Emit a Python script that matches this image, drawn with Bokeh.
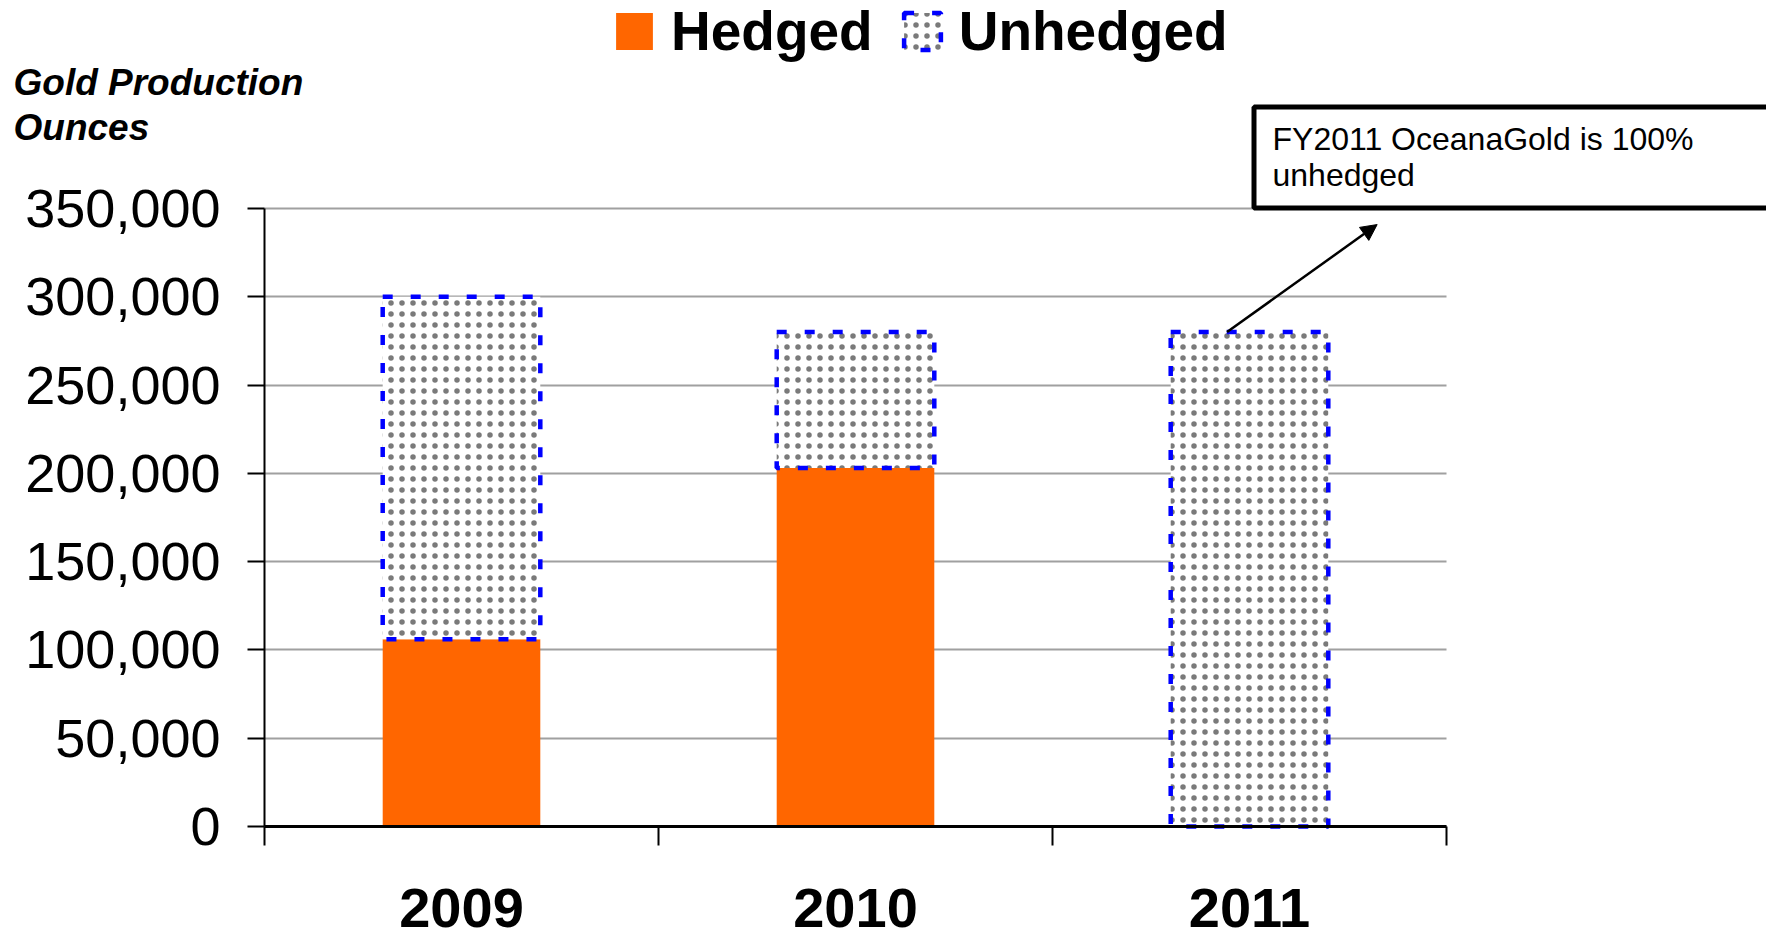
from bokeh.plotting import figure
from bokeh.models import (ColumnDataSource, Legend, LegendItem, FixedTicker, NumeralTickFormatter,
                          Label, LabelSet, BoxAnnotation, Arrow, NormalHead, Range1d)
from bokeh.core.properties import value
from bokeh.embed import file_html
from bokeh.resources import INLINE

# ---- data ----
years = ["2009", "2010", "2011"]
hedged = [106000, 203000, 0]
unhedged = [194000, 77000, 280000]
y_ticks = [0, 50000, 100000, 150000, 200000, 250000, 300000, 350000]
series_names = ["Hedged", "Unhedged"]
y_title_lines = ["Gold Production", "Ounces"]
note_lines = ["FY2011 OceanaGold is 100%", "unhedged"]

idx = [i + 0.5 for i in range(len(years))]
totals = [h + u for h, u in zip(hedged, unhedged)]
src = ColumnDataSource(dict(x=idx, year=years, hedged=hedged, total=totals))

FONT = "Liberation Sans"

# ---- layout (pixels) ----
W, H = 1766, 939
AX_L, AX_R = 264, 1446      # x pixel of category 0 and category end
AX_B, AX_T = 826, 208       # y pixel of 0 and 350,000
Y_MAX = 350000
ncat = len(years)
xpp = (AX_R - AX_L) / ncat
ypp = (AX_B - AX_T) / Y_MAX
x_range = Range1d(-AX_L / xpp, ncat + (W - AX_R) / xpp)
y_range = Range1d(-(H - AX_B) / ypp, Y_MAX + AX_T / ypp)

p = figure(width=W, height=H, output_backend="svg", toolbar_location=None,
           x_range=x_range, y_range=y_range, title=None,
           min_border=0, min_border_left=0, min_border_right=0,
           min_border_top=0, min_border_bottom=0)
p.outline_line_color = None
p.background_fill_color = "white"
p.xgrid.visible = False
p.ygrid.ticker = FixedTicker(ticks=y_ticks)
p.ygrid.grid_line_color = "#A0A0A0"
p.ygrid.grid_line_width = 2
p.ygrid.bounds = (0, Y_MAX)
p.ygrid.cross_bounds = (0, ncat)

# y axis
yax = p.yaxis[0]
yax.fixed_location = 0
yax.bounds = (0, Y_MAX)
yax.ticker = FixedTicker(ticks=y_ticks)
yax.formatter = NumeralTickFormatter(format="0,0")
yax.axis_line_color = "black"
yax.axis_line_width = 2
yax.major_tick_line_color = "black"
yax.major_tick_line_width = 2
yax.major_tick_out = 17
yax.major_tick_in = 0
yax.minor_tick_line_color = None
yax.major_label_standoff = 27
yax.major_label_text_font = FONT
yax.major_label_text_font_size = "54px"
yax.major_label_text_color = "black"

# x axis (ticks at category boundaries)
xax = p.xaxis[0]
xax.fixed_location = 0
xax.bounds = (0, ncat)
xax.ticker = FixedTicker(ticks=list(range(ncat + 1)))
xax.major_label_overrides = {i: "" for i in range(ncat + 1)}
xax.major_label_text_font_size = "1px"
xax.axis_line_color = "black"
xax.axis_line_width = 3
xax.major_tick_line_color = "black"
xax.major_tick_line_width = 2
xax.major_tick_out = 19
xax.major_tick_in = 0
xax.minor_tick_line_color = None

# bars
r_h = p.vbar(x="x", width=0.4, bottom=0, top="hedged", source=src,
             fill_color="#FF6600", line_color=None)
r_u = p.vbar(x="x", width=0.4, bottom="hedged", top="total", source=src,
             fill_color="white", line_color="#0000FF", line_width=4.5,
             line_dash="10 18", hatch_pattern="dot", hatch_scale=11,
             hatch_color="#7a7a7a", hatch_weight=0.3)

# year labels
years_lbl = LabelSet(x="x", y=13, y_units="screen", text="year", source=src,
                     text_align="center", text_baseline="alphabetic",
                     text_font=value(FONT), text_font_style="bold",
                     text_font_size=value("56px"), text_color="black")
p.add_layout(years_lbl)

# legend
legend = Legend(items=[LegendItem(label=series_names[0], renderers=[r_h]),
                       LegendItem(label=series_names[1], renderers=[r_u])],
                orientation="horizontal", location=(611, H - 63),
                glyph_width=46, glyph_height=46, label_standoff=14, spacing=26,
                padding=0, margin=0, border_line_color=None,
                background_fill_alpha=0,
                label_text_font=FONT, label_text_font_style="bold",
                label_text_font_size="55px", label_text_color="black")
p.add_layout(legend)

# y title
for txt, yy in zip(y_title_lines, [82, 127]):
    p.add_layout(Label(x=13, y=H - yy, x_units="screen", y_units="screen", text=txt,
                       text_font=FONT, text_font_style="bold italic",
                       text_font_size="37px", text_color="black",
                       text_baseline="middle", text_align="left"))

# annotation box + arrow
box = BoxAnnotation(left=1253.5, right=W + 50, top=H - 106.5, bottom=H - 207.5,
                    left_units="screen", right_units="screen",
                    top_units="screen", bottom_units="screen",
                    fill_color="white", fill_alpha=1, line_color="black",
                    line_width=5, line_alpha=1)
p.add_layout(box)
for txt, yy in zip(note_lines, [138.5, 174.6]):
    p.add_layout(Label(x=1272, y=H - yy, x_units="screen", y_units="screen", text=txt,
                       text_font=FONT, text_font_size="32px", text_color="black",
                       text_baseline="middle", text_align="left"))

arrow = Arrow(end=NormalHead(size=16, fill_color="black", line_color="black"),
              x_start=idx[2] - 0.057, y_start=totals[2],
              x_end=idx[2] + 0.324, y_end=340900,
              line_color="black", line_width=2.5)
p.add_layout(arrow)

open("out.html", "w").write(file_html(p, INLINE))
